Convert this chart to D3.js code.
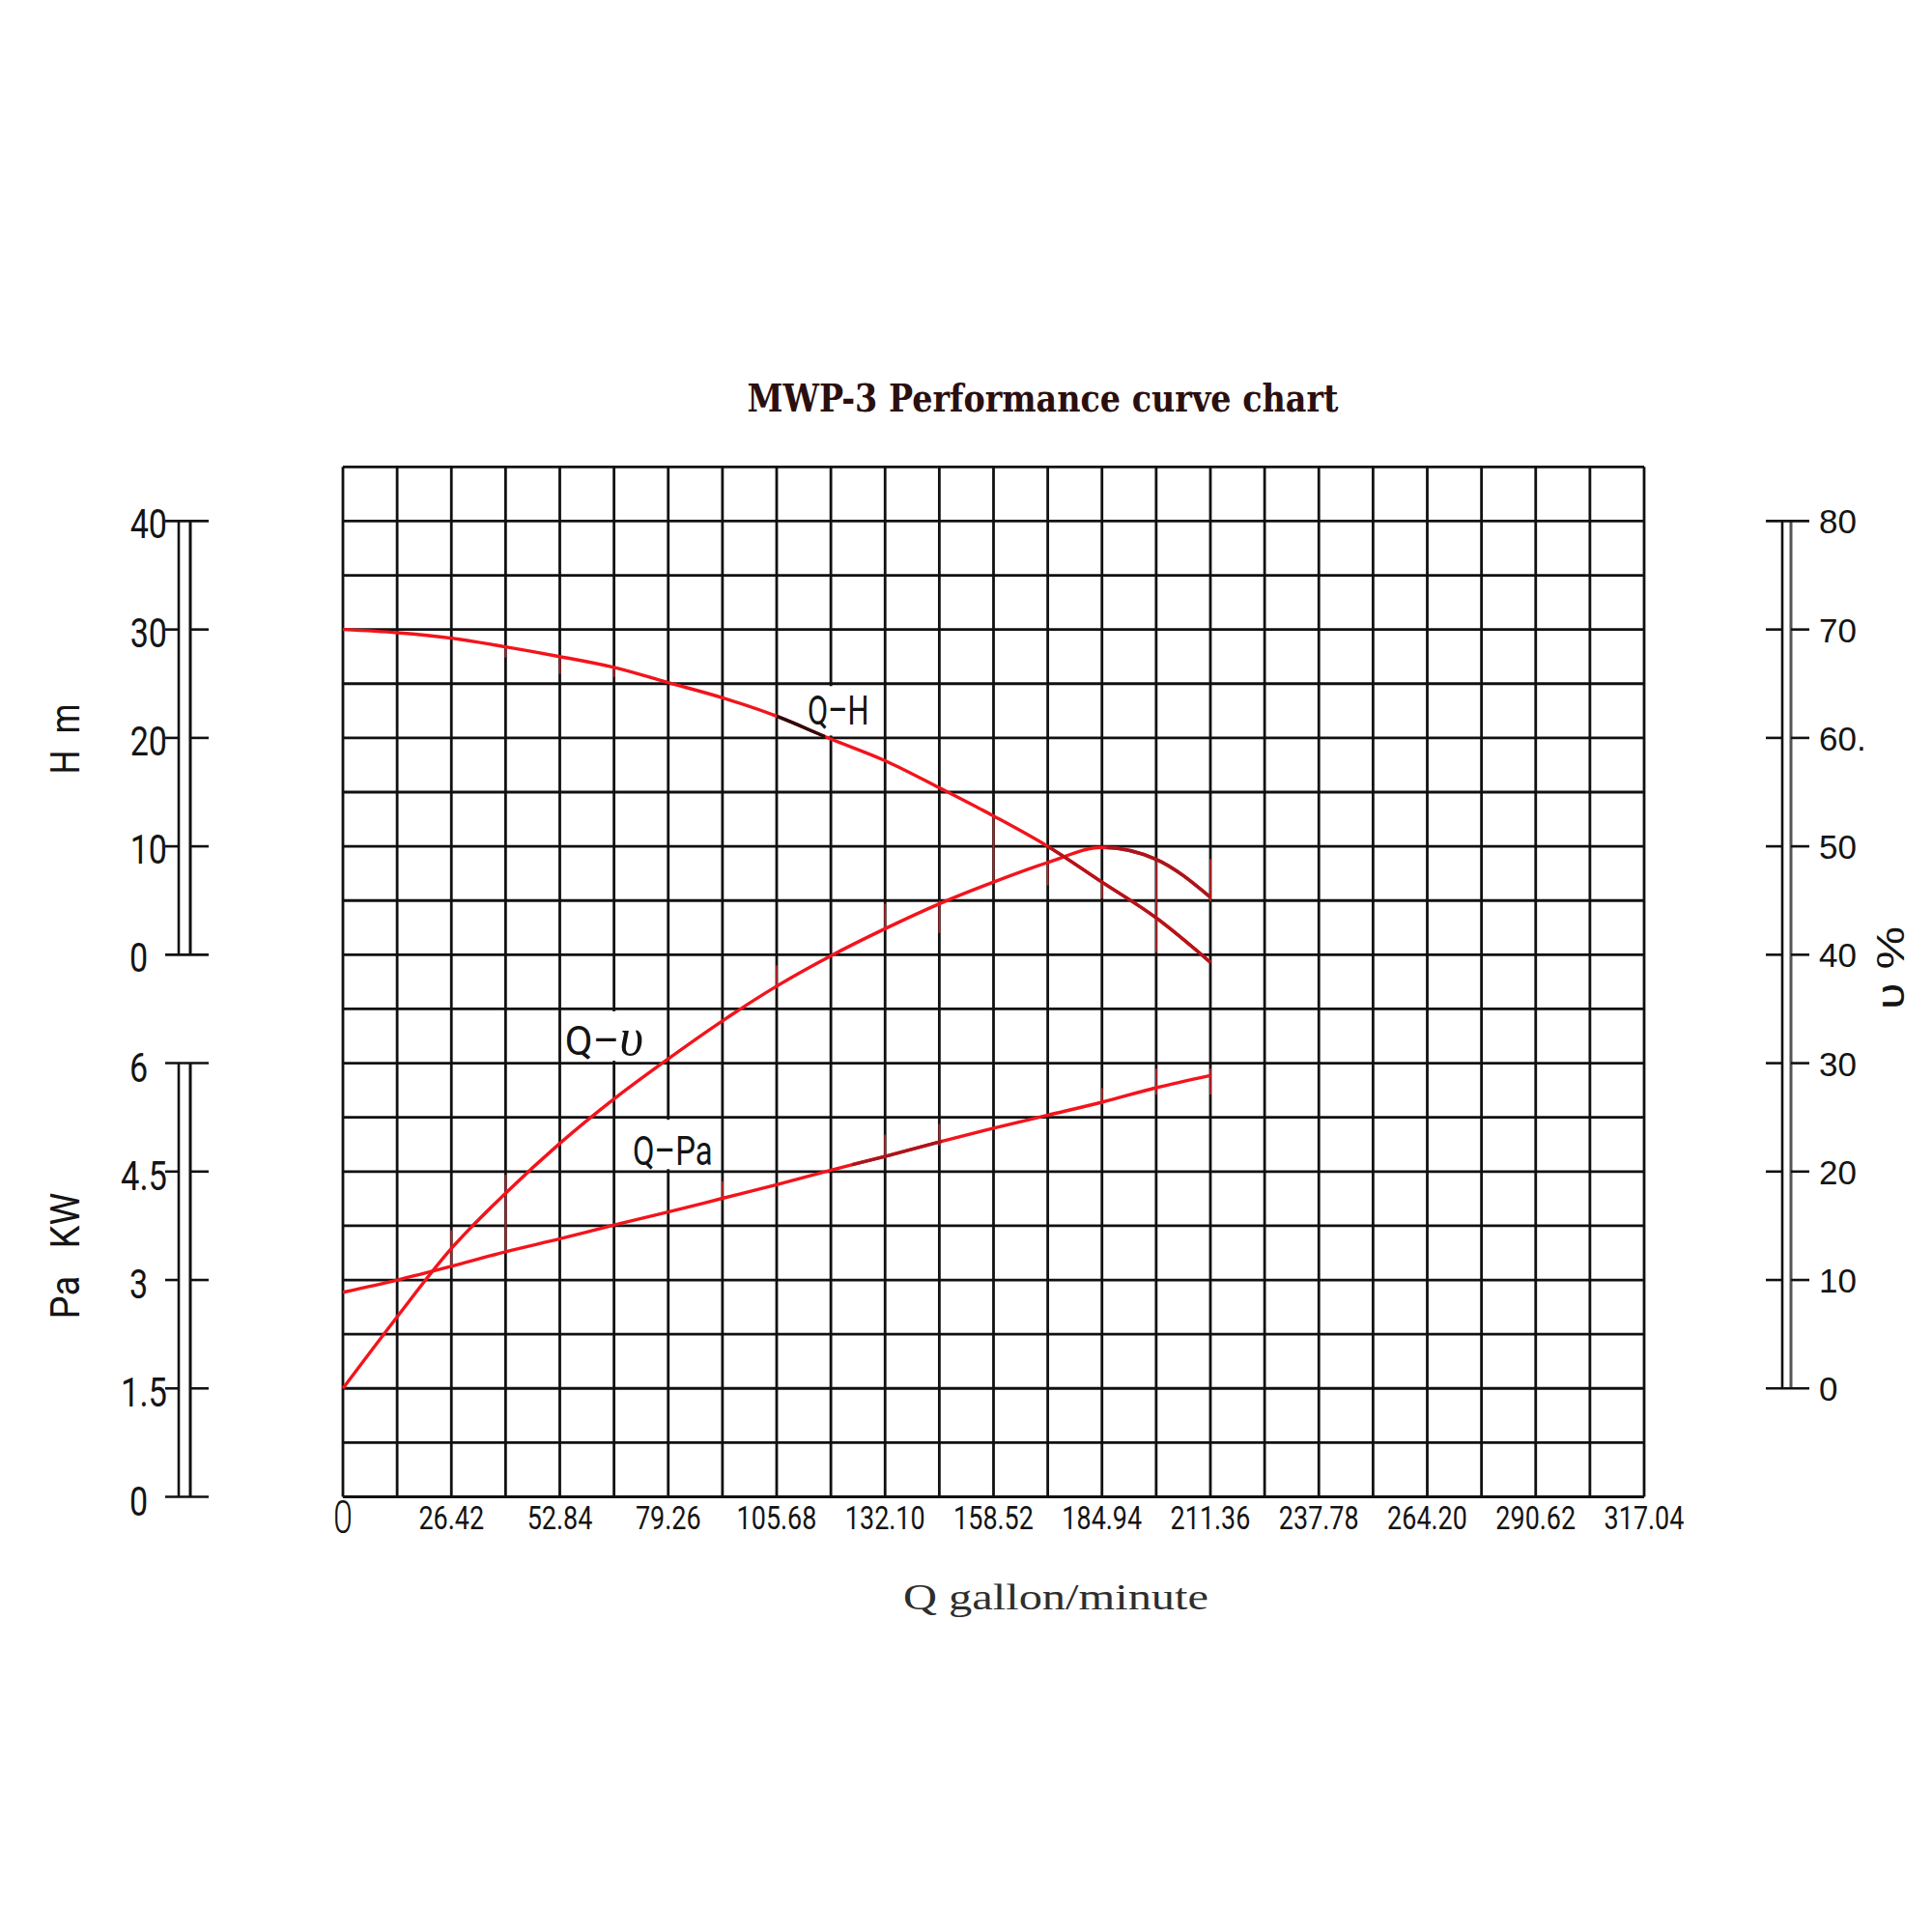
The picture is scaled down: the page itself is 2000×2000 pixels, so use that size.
<!DOCTYPE html>
<html>
<head>
<meta charset="utf-8">
<script src="https://cdn.jsdelivr.net/npm/d3@7"></script>
<style>
    body { margin: 0; background: #fff; }
    svg { display: block; }
</style>
</head>
<body>
<div id="chart"></div>
<script>

// flow (gallon/minute) at the grid columns where the curves were read
const flow = [0, 13.21, 26.42, 39.63, 52.84, 66.05, 79.26, 92.47, 105.68, 118.89, 132.10, 145.31, 158.52, 171.73, 184.94, 198.15, 211.36];
// Q-H, head in m
const head = [30, 29.7, 29.2, 28.4, 27.5, 26.5, 25.1, 23.7, 22.0, 19.9, 17.9, 15.4, 12.8, 10.0, 6.7, 3.4, -0.7];
// Q-υ, efficiency in %
const efficiency = [0, 6.6, 12.9, 18.0, 22.6, 26.7, 30.4, 33.9, 37.1, 39.9, 42.4, 44.7, 46.7, 48.5, 49.9, 48.8, 45.3];
// Q-Pa, shaft power in kW
const power = [2.83, 3.0, 3.19, 3.39, 3.57, 3.76, 3.94, 4.13, 4.32, 4.52, 4.71, 4.91, 5.10, 5.28, 5.46, 5.66, 5.83];

// axis ticks
const flowTicks = [0, 26.42, 52.84, 79.26, 105.68, 132.10, 158.52, 184.94, 211.36, 237.78, 264.20, 290.62, 317.04];
const flowTickLabels = ['0', '26.42', '52.84', '79.26', '105.68', '132.10', '158.52', '184.94', '211.36', '237.78', '264.20', '290.62', '317.04'];
const headTicks = [0, 10, 20, 30, 40];
const headTickLabels = ['0', '10', '20', '30', '40'];
const powerTicks = [0, 1.5, 3, 4.5, 6];
const powerTickLabels = ['0', '1.5', '3', '4.5', '6'];
const effTicks = [0, 10, 20, 30, 40, 50, 60, 70, 80];
const effTickLabels = ['0', '10', '20', '30', '40', '50', '60.', '70', '80'];

// little red strokes left on the grid lines by the drawing (flow, efficiency from / to)
const markFlow = [39.63, 52.84, 66.05, 158.52, 171.73, 184.94, 198.15, 211.36, 132.10, 145.31, 26.42, 39.63, 92.47, 105.68, 132.10, 145.31, 184.94, 198.15, 211.36];
const markFrom = [68.4, 67.5, 66.6, 52.8, 48.6, 46.7, 48.6, 48.8, 44.7, 45.0, 14.6, 19.7, 19.1, 39.0, 23.4, 24.4, 27.7, 29.5, 29.5];
const markTo = [67.4, 65.9, 65.6, 46.7, 46.4, 45.2, 40.2, 44.9, 42.3, 42.0, 11.2, 12.5, 17.6, 36.9, 21.2, 22.4, 26.2, 27.1, 27.1];

const W = 2000, H = 2000;
const plot = {left: 355, right: 1702, top: 483.3, bottom: 1549.5};
const nCols = 24, nRows = 19;

const narrow = "'Liberation Sans Narrow', 'Arial Narrow', 'Roboto', sans-serif";

// width of a label in the narrow CAD-like font
function narrowWidth(str, fs) {
    let w = 0;
    for (const ch of str) w += (ch === '.' ? 0.228 : 0.456) * fs;
    return w;
}

const svg = d3.select('#chart').append('svg')
    .attr('width', W)
    .attr('height', H);

svg.append('rect').attr('width', W).attr('height', H).attr('fill', '#fff');

// scales
const x = d3.scaleLinear().domain([0, 317.04]).range([plot.left, plot.right]);
const colX = d3.scaleLinear().domain([0, nCols]).range([plot.left, plot.right]);
const rowY = d3.scaleLinear().domain([0, nRows]).range([plot.top, plot.bottom]);
const yHead = d3.scaleLinear().domain([-50, 45]).range([plot.bottom, plot.top]);
const yEff = d3.scaleLinear().domain([-10, 85]).range([plot.bottom, plot.top]);
const yPow = d3.scaleLinear().domain([0, 14.25]).range([plot.bottom, plot.top]);

// title
svg.append('text')
    .attr('x', (x(0) + x(317.04)) / 2 + 51)
    .attr('y', 426)
    .attr('text-anchor', 'middle')
    .attr('textLength', 612)
    .attr('lengthAdjust', 'spacingAndGlyphs')
    .style('font-family', "'DejaVu Serif', serif")
    .style('font-weight', 'bold')
    .style('font-size', '40px')
    .style('fill', '#2b0f0f')
    .text('MWP-3 Performance curve chart');

// grid
const grid = svg.append('g').attr('stroke', '#111').attr('stroke-width', 2.8);
grid.selectAll('.vline').data(d3.range(nCols + 1)).enter().append('line')
    .attr('x1', d => colX(d)).attr('x2', d => colX(d))
    .attr('y1', plot.top).attr('y2', plot.bottom);
grid.selectAll('.hline').data(d3.range(nRows + 1)).enter().append('line')
    .attr('x1', plot.left).attr('x2', plot.right)
    .attr('y1', d => rowY(d)).attr('y2', d => rowY(d));

// white boxes that cut the grid behind the curve names
const labelBoxes = svg.append('g').attr('fill', '#fff');

// curves
const line = (yScale, values) => d3.line()
    .x((d, i) => x(flow[i]))
    .y(d => yScale(d))
    .curve(d3.curveMonotoneX)(values);

const curves = [
    {key: 'head', path: line(yHead, head)},
    {key: 'eff', path: line(yEff, efficiency)},
    {key: 'pow', path: line(yPow, power)}
];

// darker stretches of the curves
const darkSpans = [
    {key: 'head', from: 105.68, to: 117.5, color: '#2a0c0c'},
    {key: 'head', from: 171.73, to: 215, color: '#b3141a'},
    {key: 'eff', from: 186, to: 215, color: '#a8161c'},
    {key: 'pow', from: 124, to: 146, color: '#a8161c'}
];

const defs = svg.append('defs');
darkSpans.forEach((s, i) => {
    defs.append('clipPath').attr('id', 'dark' + i)
        .append('rect')
        .attr('x', x(s.from)).attr('width', x(s.to) - x(s.from))
        .attr('y', 0).attr('height', H);
});

// marks on the grid lines
svg.append('g').selectAll('line').data(markFlow).enter().append('line')
    .attr('x1', d => x(d)).attr('x2', d => x(d))
    .attr('y1', (d, i) => yEff(markFrom[i]))
    .attr('y2', (d, i) => yEff(markTo[i]))
    .attr('stroke', '#ec2a30')
    .attr('stroke-opacity', 0.75)
    .attr('stroke-width', 1.8);

svg.append('g').selectAll('path').data(curves).enter().append('path')
    .attr('d', d => d.path)
    .attr('fill', 'none')
    .attr('stroke', '#f2141c')
    .attr('stroke-width', 3.4);

svg.append('g').selectAll('path').data(darkSpans).enter().append('path')
    .attr('d', d => curves.find(c => c.key === d.key).path)
    .attr('clip-path', (d, i) => `url(#dark${i})`)
    .attr('fill', 'none')
    .attr('stroke', d => d.color)
    .attr('stroke-width', 3.4);

// curve names, each sitting inside one grid row
const curveNames = svg.append('g')
    .style('font-family', narrow)
    .style('fill', '#141414');

function cutBox(xLeft, w, row) {
    labelBoxes.append('rect')
        .attr('x', xLeft - 3).attr('y', rowY(row) + 2.5)
        .attr('width', w + 6).attr('height', rowY(row + 1) - rowY(row) - 5);
}

function curveName(txt, xLeft, baseline, fs, row) {
    const w = narrowWidth(txt, fs) + 6;
    cutBox(xLeft, w, row);
    return curveNames.append('text')
        .attr('x', xLeft).attr('y', baseline)
        .style('font-size', fs + 'px')
        .attr('textLength', w)
        .attr('lengthAdjust', 'spacingAndGlyphs')
        .text(txt);
}

curveName('Q\u2013H', x(113.2), yHead(21.2), 42, 4);
curveName('Q\u2013Pa', x(70.6), yPow(4.59), 42, 12);

// Q-υ keeps an italic script υ
cutBox(x(54.1), 80, 10);
const qv = curveNames.append('text')
    .attr('x', x(54.1)).attr('y', yEff(30.8))
    .style('font-size', '42px');
qv.append('tspan').text('Q\u2013');
qv.append('tspan')
    .style('font-family', "'Liberation Serif', serif")
    .style('font-style', 'italic')
    .style('font-size', '54px')
    .text('\u03c5');

// x-axis labels
const xLabels = svg.append('g')
    .style('font-family', narrow)
    .style('fill', '#141414');
xLabels.selectAll('text').data(flowTicks).enter().append('text')
    .attr('x', d => x(d))
    .attr('y', (d, i) => i === 0 ? 1587 : 1583)
    .attr('text-anchor', 'middle')
    .style('font-size', (d, i) => i === 0 ? '48px' : '33px')
    .style('font-weight', (d, i) => i === 0 ? 300 : 400)
    .attr('textLength', (d, i) => i === 0 ? 20 : narrowWidth(flowTickLabels[i], 33))
    .attr('lengthAdjust', 'spacingAndGlyphs')
    .text((d, i) => flowTickLabels[i]);

svg.append('text')
    .attr('x', 1093).attr('y', 1666)
    .attr('text-anchor', 'middle')
    .attr('textLength', 316)
    .attr('lengthAdjust', 'spacingAndGlyphs')
    .style('font-family', "'Liberation Serif', serif")
    .style('font-size', '38px')
    .style('fill', '#2e2e2e')
    .text('Q gallon/minute');

// double-rail axis drawn from a scale
function railAxis(opts) {
    const g = svg.append('g');
    const y0 = opts.scale(opts.ticks[0]);
    const y1 = opts.scale(opts.ticks[opts.ticks.length - 1]);
    g.append('line').attr('x1', opts.rails[0]).attr('x2', opts.rails[0])
        .attr('y1', y0).attr('y2', y1)
        .attr('stroke', '#111').attr('stroke-width', 2.6);
    g.append('line').attr('x1', opts.rails[1]).attr('x2', opts.rails[1])
        .attr('y1', y0).attr('y2', y1)
        .attr('stroke', opts.innerColor).attr('stroke-width', 3);

    opts.ticks.forEach((t, i) => {
        const y = opts.scale(t);
        const ends = i === 0 || i === opts.ticks.length - 1;
        const segs = ends ? [[opts.tick[0], opts.tick[1]]]
            : [[opts.tick[0], opts.rails[0]], [opts.rails[1], opts.tick[1]]];
        segs.forEach(s => g.append('line')
            .attr('x1', s[0]).attr('x2', s[1]).attr('y1', y).attr('y2', y)
            .attr('stroke', '#111').attr('stroke-width', 2.6));

        const lab = opts.labels[i];
        const t2 = g.append('text')
            .attr('y', y + opts.dy)
            .style('font-family', opts.font)
            .style('font-size', opts.fs + 'px')
            .style('fill', '#141414')
            .text(lab);
        if (opts.side === 'left') {
            const single = lab.length === 1;
            t2.attr('x', single ? 134 : 173)
                .attr('text-anchor', single ? 'start' : 'end')
                .attr('textLength', narrowWidth(lab, opts.fs))
                .attr('lengthAdjust', 'spacingAndGlyphs');
        } else {
            t2.attr('x', opts.labelX);
        }
    });
}

railAxis({scale: yHead, ticks: headTicks, labels: headTickLabels, rails: [185, 197], tick: [171, 216],
    innerColor: '#111', side: 'left', fs: 42, dy: 18, font: narrow});
railAxis({scale: yPow, ticks: powerTicks, labels: powerTickLabels, rails: [185, 197], tick: [171, 216],
    innerColor: '#111', side: 'left', fs: 42, dy: 19, font: narrow});
railAxis({scale: yEff, ticks: effTicks, labels: effTickLabels, rails: [1845, 1854], tick: [1828, 1873],
    innerColor: '#555', side: 'right', fs: 35, dy: 13, labelX: 1883, font: "'Liberation Sans', Arial, sans-serif"});

// rotated axis names
function axisName(txt, cx, cy, fs, len, font) {
    svg.append('text')
        .attr('transform', `translate(${cx},${cy}) rotate(-90)`)
        .attr('text-anchor', 'middle')
        .attr('textLength', len)
        .attr('lengthAdjust', 'spacingAndGlyphs')
        .style('font-family', font)
        .style('font-size', fs + 'px')
        .style('fill', '#141414')
        .text(txt);
}

axisName('H\u00a0\u00a0m', 82, 765, 42, 73, narrow);
axisName('Pa\u00a0\u00a0\u00a0KW', 82, 1300, 42, 131, narrow);
axisName('\u03c5\u00a0%', 1971, 1002, 40, 86, "'Liberation Sans', Arial, sans-serif");

</script>
</body>
</html>
